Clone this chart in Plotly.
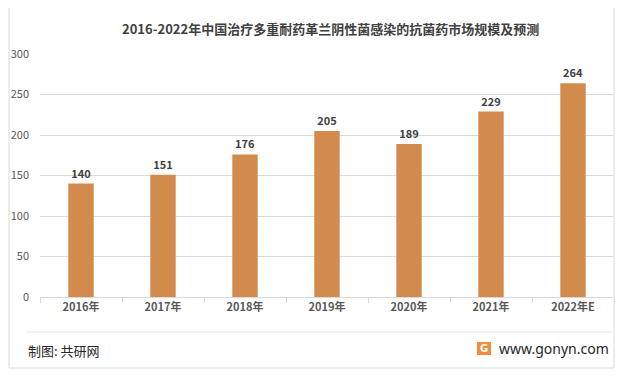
import plotly.graph_objects as go

categories = ["2016年", "2017年", "2018年", "2019年", "2020年", "2021年", "2022年E"]
values = [140, 151, 176, 205, 189, 229, 264]
title_text = "2016-2022年中国治疗多重耐药革兰阴性菌感染的抗菌药市场规模及预测"
source_text = "制图: 共研网"
site_text = "www.gonyn.com"

# the page body adds an 8px margin, so the figure is drawn offset by 8px
OX, OY = 8, 8
W, H = 624 - OX, 377 - OY
L, R, T, B = 40 - OX, 10, 54 - OY, 80
PW = W - L - R
PH = H - T - B


def px(x):
    return (x - OX - L) / PW


def py(y):
    return (H - B - (y - OY)) / PH


FONT = "Noto Sans CJK SC, Noto Sans, sans-serif"

fig = go.Figure(
    go.Bar(
        x=categories,
        y=values,
        marker=dict(color="#D38B4D", line=dict(width=0)),
        text=[str(v) for v in values],
        textposition="outside",
        textfont=dict(size=11, color="#404040", family=FONT),
        texttemplate="<b>%{text}</b>",
        cliponaxis=False,
    )
)

fig.update_layout(
    width=W,
    height=H,
    margin=dict(l=L, r=R, t=T, b=B),
    paper_bgcolor="white",
    plot_bgcolor="white",
    bargap=0.69,
    showlegend=False,
    font=dict(family=FONT, color="#595959", size=11),
)

fig.update_xaxes(
    automargin=False,
    showline=True,
    linecolor="#D9D9D9",
    linewidth=1,
    ticks="outside",
    tickson="boundaries",
    tickcolor="#D9D9D9",
    ticklen=5,
    tickfont=dict(size=11, color="#595959", family=FONT, weight="bold"),
    showgrid=False,
)

fig.update_yaxes(
    automargin=False,
    range=[0, 300],
    tickvals=[0, 50, 100, 150, 200, 250, 300],
    showgrid=True,
    gridcolor="#D9D9D9",
    gridwidth=1,
    zeroline=False,
    showline=False,
    tickfont=dict(size=11, color="#595959", family=FONT),
    ticklabelstandoff=10,
)

shapes = [
    # outer frame
    dict(type="rect", xref="paper", yref="paper",
         x0=px(9), x1=px(614), y0=py(368), y1=py(7),
         line=dict(color="#D9D9D9", width=1), fillcolor="rgba(0,0,0,0)", layer="below"),
    # separator line
    dict(type="line", xref="paper", yref="paper",
         x0=px(27), x1=px(612), y0=py(332), y1=py(332),
         line=dict(color="#E3E3E3", width=1)),
    # logo
    dict(type="rect", xref="paper", yref="paper",
         x0=px(477), x1=px(491), y0=py(355), y1=py(342),
         line=dict(width=0), fillcolor="#F28C3A"),
]

annotations = [
    dict(text="<b>" + title_text + "</b>", xref="paper", yref="paper",
         x=px(330), y=py(29), showarrow=False, xanchor="center", yanchor="middle",
         font=dict(size=13, color="#404040", family=FONT)),
    dict(text=source_text, xref="paper", yref="paper",
         x=px(26), y=py(350), showarrow=False, xanchor="left", yanchor="middle",
         font=dict(size=13, color="#262626", family=FONT)),
    dict(text=site_text, xref="paper", yref="paper",
         x=px(611), y=py(348), showarrow=False, xanchor="right", yanchor="middle",
         font=dict(size=14, color="#262626", family="Noto Sans, sans-serif")),
    dict(text="<b>G</b>", xref="paper", yref="paper",
         x=px(484), y=py(348.5), showarrow=False, xanchor="center", yanchor="middle",
         font=dict(size=10, color="white", family="DejaVu Sans")),
]

fig.update_layout(shapes=shapes, annotations=annotations)

fig.write_html("out.html")
